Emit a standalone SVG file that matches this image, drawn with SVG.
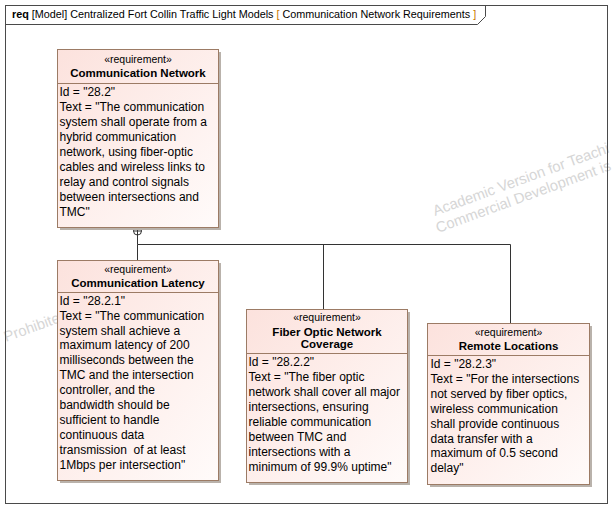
<svg xmlns="http://www.w3.org/2000/svg" width="614" height="509" viewBox="0 0 614 509">
<style>
.frame{fill:none;stroke:#4a4a4a;stroke-width:1}
.box{fill:url(#rg);stroke:#9c7b65;stroke-width:1}
.shadow{fill:#b9b2ab}
.div{stroke:#9c7b65;stroke-width:1}
.st{font-family:"Liberation Sans",Arial,sans-serif;font-size:10.5px;fill:#000;text-anchor:middle}
.nm{font-family:"Liberation Sans",Arial,sans-serif;font-size:11.5px;font-weight:bold;fill:#000;text-anchor:middle}
.bd{font-family:"Liberation Sans",Arial,sans-serif;font-size:12px;fill:#000}
.ttl{font-family:"Liberation Sans",Arial,sans-serif;font-size:10.8px;fill:#000}
.wm{font-family:"Liberation Sans",Arial,sans-serif;font-size:14.8px;fill:#d6d6d6}
.conn{fill:none;stroke:#333;stroke-width:1}
</style>
<defs>
<linearGradient id="rg" x1="0" y1="0" x2="1" y2="1">
<stop offset="0" stop-color="#fce2dd"/>
<stop offset="1" stop-color="#fffbfa"/>
</linearGradient>
</defs>
<rect x="0" y="0" width="614" height="509" fill="#fff"/>
<g id="watermark">
<g transform="translate(435,216) rotate(-20)">
<text class="wm" x="0" y="0">Academic Version for Teachi</text>
</g>
<g transform="translate(438,233) rotate(-20)">
<text class="wm" x="0" y="0">Commercial Development is</text>
</g>
<g transform="translate(6,342) rotate(-20)">
<text class="wm" x="0" y="0">Prohibite</text>
</g>
</g>
<g id="frame">
<rect class="frame" x="5.5" y="5.5" width="602" height="498"/>
<path class="frame" d="M5.5,24.5 H477.5 L485.5,16.5 V5.5"/>
<text class="ttl" x="12" y="18"><tspan font-weight="bold">req</tspan> [Model] Centralized Fort Collin Traffic Light Models <tspan fill="#c87800">[</tspan> Communication Network Requirements <tspan fill="#c87800">]</tspan></text>
</g>
<g id="connectors">
<circle class="conn" cx="137.5" cy="231" r="4"/>
<path class="conn" d="M133.5,231 H141.5 M137.5,227 V235"/>
<path class="conn" d="M137.5,235 V244.5 M137.5,244.5 V260 M137.5,244.5 H510.5 M323.5,244.5 V309 M510.5,244.5 V323"/>
</g>
<g id="communication-network">
<rect class="shadow" x="60" y="52" width="161" height="178"/>
<rect class="box" x="57.5" y="49.5" width="161" height="178"/>
<line class="div" x1="57.5" y1="83.5" x2="218.5" y2="83.5"/>
<text class="st" x="138" y="63">«requirement»</text>
<text class="nm" x="138" y="77">Communication Network</text>
<text class="bd" x="59.5" y="96.3">Id = "28.2"</text>
<text class="bd" x="59.5" y="111.2">Text = "The communication</text>
<text class="bd" x="59.5" y="126.1">system shall operate from a</text>
<text class="bd" x="59.5" y="141">hybrid communication</text>
<text class="bd" x="59.5" y="155.9">network, using fiber-optic</text>
<text class="bd" x="59.5" y="170.8">cables and wireless links to</text>
<text class="bd" x="59.5" y="185.7">relay and control signals</text>
<text class="bd" x="59.5" y="200.6">between intersections and</text>
<text class="bd" x="59.5" y="215.5">TMC"</text>
</g>
<g id="communication-latency">
<rect class="shadow" x="60" y="263" width="161" height="220"/>
<rect class="box" x="57.5" y="260.5" width="161" height="220"/>
<line class="div" x1="57.5" y1="292.5" x2="218.5" y2="292.5"/>
<text class="st" x="138" y="273">«requirement»</text>
<text class="nm" x="138" y="287">Communication Latency</text>
<text class="bd" x="59.5" y="304.7">Id = "28.2.1"</text>
<text class="bd" x="59.5" y="319.6">Text = "The communication</text>
<text class="bd" x="59.5" y="334.5">system shall achieve a</text>
<text class="bd" x="59.5" y="349.4">maximum latency of 200</text>
<text class="bd" x="59.5" y="364.3">milliseconds between the</text>
<text class="bd" x="59.5" y="379.2">TMC and the intersection</text>
<text class="bd" x="59.5" y="394.1">controller, and the</text>
<text class="bd" x="59.5" y="409">bandwidth should be</text>
<text class="bd" x="59.5" y="423.9">sufficient to handle</text>
<text class="bd" x="59.5" y="438.8">continuous data</text>
<text class="bd" x="59.5" y="453.7" xml:space="preserve">transmission  of at least</text>
<text class="bd" x="59.5" y="468.6">1Mbps per intersection"</text>
</g>
<g id="fiber-optic-network-coverage">
<rect class="shadow" x="249" y="312" width="161" height="173"/>
<rect class="box" x="246.5" y="309.5" width="161" height="173"/>
<line class="div" x1="246.5" y1="353.5" x2="407.5" y2="353.5"/>
<text class="st" x="327" y="320.5">«requirement»</text>
<text class="nm" x="327" y="336">Fiber Optic Network</text>
<text class="nm" x="327" y="348.2">Coverage</text>
<text class="bd" x="248.5" y="366.3">Id = "28.2.2"</text>
<text class="bd" x="248.5" y="381.2">Text = "The fiber optic</text>
<text class="bd" x="248.5" y="396.1">network shall cover all major</text>
<text class="bd" x="248.5" y="411">intersections, ensuring</text>
<text class="bd" x="248.5" y="425.9">reliable communication</text>
<text class="bd" x="248.5" y="440.8">between TMC and</text>
<text class="bd" x="248.5" y="455.7">intersections with a</text>
<text class="bd" x="248.5" y="470.6">minimum of 99.9% uptime"</text>
</g>
<g id="remote-locations">
<rect class="shadow" x="430" y="326" width="162" height="161"/>
<rect class="box" x="427.5" y="323.5" width="162" height="161"/>
<line class="div" x1="427.5" y1="355.5" x2="589.5" y2="355.5"/>
<text class="st" x="508.5" y="336">«requirement»</text>
<text class="nm" x="508.5" y="350">Remote Locations</text>
<text class="bd" x="430.5" y="368">Id = "28.2.3"</text>
<text class="bd" x="430.5" y="382.9">Text = "For the intersections</text>
<text class="bd" x="430.5" y="397.8">not served by fiber optics,</text>
<text class="bd" x="430.5" y="412.7">wireless communication</text>
<text class="bd" x="430.5" y="427.6">shall provide continuous</text>
<text class="bd" x="430.5" y="442.5">data transfer with a</text>
<text class="bd" x="430.5" y="457.4">maximum of 0.5 second</text>
<text class="bd" x="430.5" y="472.3">delay"</text>
</g>
</svg>
